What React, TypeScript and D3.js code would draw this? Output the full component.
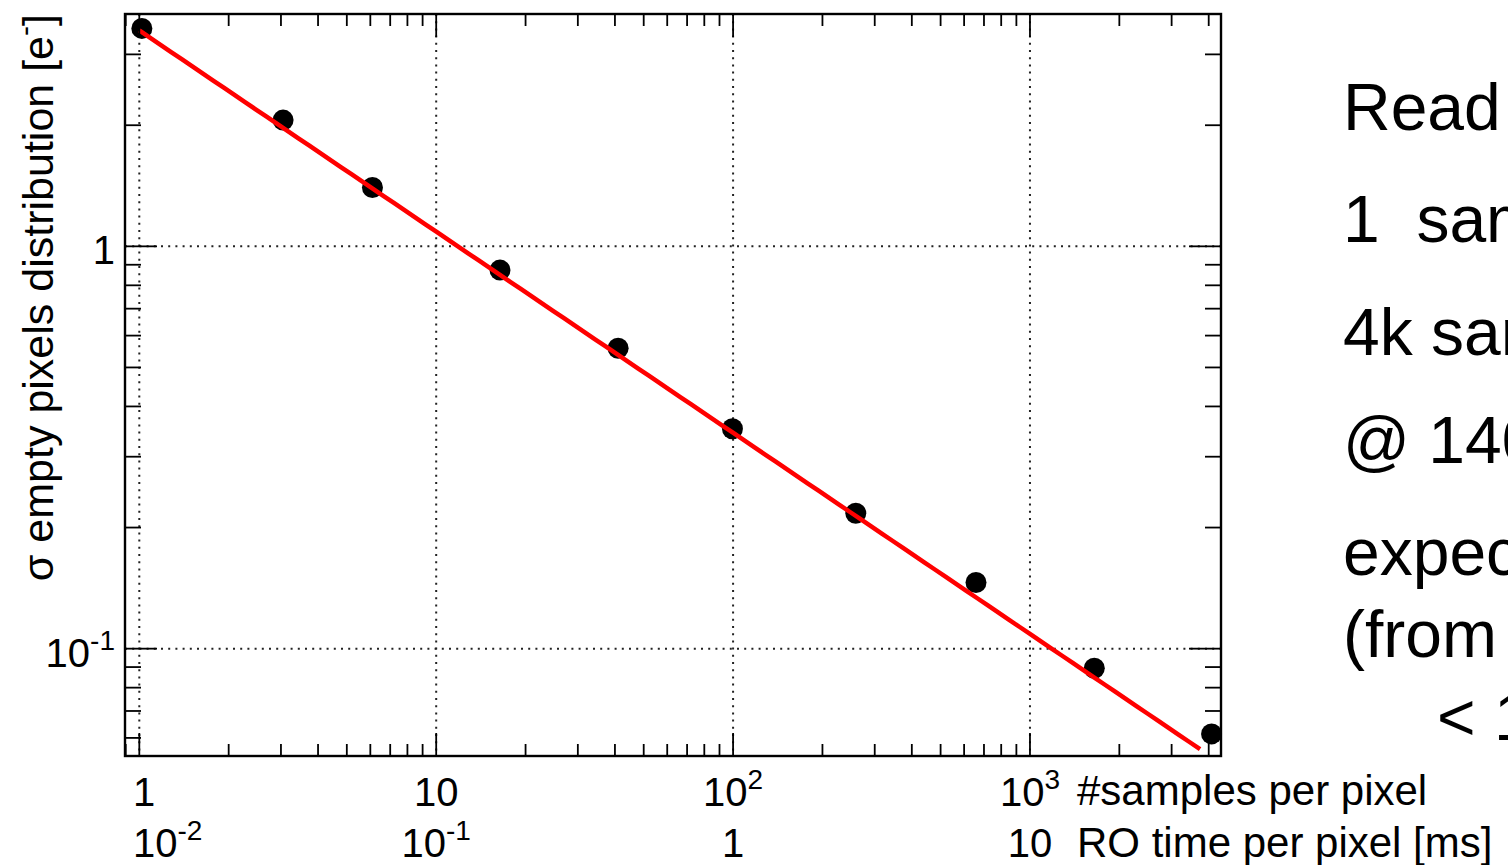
import React from "react";
import * as d3 from "d3";

// ---- data ----
const SAMPLES = [1.02, 3.05, 6.1, 16.4, 41, 99.5, 259, 658, 1647, 4090];
const SIGMA = [3.48, 2.06, 1.4, 0.873, 0.558, 0.352, 0.217, 0.146, 0.0894, 0.0614];
const FIT_AMPLITUDE = 3.44;
const FIT_EXPONENT = -0.5;
const FIT_RANGE = [1, 3740];
const X_DOMAIN = [0.895, 4400];
const Y_DOMAIN = [0.0541, 3.78];
const X_LABELS_SAMPLES = [
  { v: 1, base: "1", sup: "" },
  { v: 10, base: "10", sup: "" },
  { v: 100, base: "10", sup: "2" },
  { v: 1000, base: "10", sup: "3" },
];
const X_LABELS_TIME = [
  { v: 1, base: "10", sup: "-2" },
  { v: 10, base: "10", sup: "-1" },
  { v: 100, base: "1", sup: "" },
  { v: 1000, base: "10", sup: "" },
];
const Y_LABELS = [
  { v: 0.1, base: "10", sup: "-1" },
  { v: 1, base: "1", sup: "" },
];
const X_TITLE_1 = "#samples per pixel";
const X_TITLE_2 = "RO time per pixel [ms]";
const Y_TITLE = "σ empty pixels distribution [e";
const NOTES = ["Read", "1  sam", "4k sam", "@ 140", "expect", "(from", "< 1"];

const W = 1508;
const H = 865;
const FRAME = { left: 125, right: 1221, top: 14, bottom: 756 };
const FONT = "'Liberation Sans', Arial, Helvetica, sans-serif";

function estWidth(base: string, sup: string, fs: number, sfs: number) {
  const cw = (c: string) => (c === "-" ? 0.333 : 0.556);
  let w = 0;
  for (const c of base) w += cw(c) * fs;
  for (const c of sup) w += cw(c) * sfs;
  return w;
}

export default function App() {
  const x = d3.scaleLog().domain(X_DOMAIN).range([FRAME.left, FRAME.right]);
  const y = d3.scaleLog().domain(Y_DOMAIN).range([FRAME.bottom, FRAME.top]);

  const isMajor = (v: number) => Math.abs(Math.log10(v) - Math.round(Math.log10(v))) < 1e-9;
  const xTicks = x.ticks().filter((v) => x(v) >= FRAME.left - 0.5 && x(v) <= FRAME.right + 0.5);
  const yTicks = y.ticks().filter((v) => y(v) <= FRAME.bottom + 0.5 && y(v) >= FRAME.top - 0.5);
  const xMajor = xTicks.filter(isMajor);
  const yMajor = yTicks.filter(isMajor);

  const fitPts = d3.range(0, 101).map((i) => {
    const lx =
      Math.log10(FIT_RANGE[0]) + ((Math.log10(FIT_RANGE[1]) - Math.log10(FIT_RANGE[0])) * i) / 100;
    const xv = Math.pow(10, lx);
    return [xv, FIT_AMPLITUDE * Math.pow(xv, FIT_EXPONENT)] as [number, number];
  });
  const fitLine = d3
    .line<[number, number]>()
    .x((d) => x(d[0]))
    .y((d) => y(d[1]))(fitPts);

  const tickFs = 40;
  const supFs = 28;
  const supDy = 17;

  const xLabelRow = (labels: typeof X_LABELS_SAMPLES, baseline: number, key: string) =>
    labels.map((l, i) => {
      const w = estWidth(l.base, l.sup, tickFs, supFs);
      const left = Math.max(FRAME.left + 8, x(l.v) - w / 2);
      return (
        <text key={key + i} x={left} y={baseline} fontSize={tickFs} textAnchor="start">
          {l.base}
          {l.sup && (
            <tspan fontSize={supFs} dy={-supDy}>
              {l.sup}
            </tspan>
          )}
        </text>
      );
    });

  const noteBaselines = [130, 242, 355, 463, 575, 657, 740];

  return (
    <svg
      width={W}
      height={H}
      style={{ position: "absolute", left: 0, top: 0, background: "#fff" }}
      fontFamily={FONT}
    >
      <rect x={0} y={0} width={W} height={H} fill="#fff" />

      {/* grid */}
      {xMajor.map((v) => (
        <line
          key={"gx" + v}
          x1={x(v)}
          x2={x(v)}
          y1={FRAME.top}
          y2={FRAME.bottom}
          stroke="#222"
          strokeWidth={2}
          strokeDasharray="2 5.2"
        />
      ))}
      {yMajor.map((v) => (
        <line
          key={"gy" + v}
          x1={FRAME.left}
          x2={FRAME.right}
          y1={y(v)}
          y2={y(v)}
          stroke="#222"
          strokeWidth={2}
          strokeDasharray="2 5.2"
        />
      ))}

      {/* points */}
      {SAMPLES.map((s, i) => (
        <circle key={"p" + i} cx={x(s)} cy={y(SIGMA[i])} r={10.5} fill="#000" />
      ))}

      {/* fit */}
      <path d={fitLine || ""} fill="none" stroke="#ff0000" strokeWidth={4.5} />

      {/* ticks */}
      {xTicks.map((v) => {
        const len = isMajor(v) ? 23 : 12;
        return (
          <g key={"tx" + v} stroke="#000" strokeWidth={1.8}>
            <line x1={x(v)} x2={x(v)} y1={FRAME.bottom} y2={FRAME.bottom - len} />
            <line x1={x(v)} x2={x(v)} y1={FRAME.top} y2={FRAME.top + len} />
          </g>
        );
      })}
      {yTicks.map((v) => {
        const len = isMajor(v) ? 32 : 16;
        return (
          <g key={"ty" + v} stroke="#000" strokeWidth={1.8}>
            <line x1={FRAME.left} x2={FRAME.left + len} y1={y(v)} y2={y(v)} />
            <line x1={FRAME.right} x2={FRAME.right - len} y1={y(v)} y2={y(v)} />
          </g>
        );
      })}

      {/* frame */}
      <rect
        x={FRAME.left}
        y={FRAME.top}
        width={FRAME.right - FRAME.left}
        height={FRAME.bottom - FRAME.top}
        fill="none"
        stroke="#000"
        strokeWidth={2.4}
      />

      {/* x labels */}
      {xLabelRow(X_LABELS_SAMPLES, 806, "xs")}
      {xLabelRow(X_LABELS_TIME, 857, "xt")}
      <text x={1077} y={805} fontSize={42}>
        {X_TITLE_1}
      </text>
      <text x={1077} y={857} fontSize={42}>
        {X_TITLE_2}
      </text>

      {/* y labels */}
      {Y_LABELS.map((l, i) => (
        <text key={"yl" + i} x={115} y={y(l.v) + 18} fontSize={tickFs} textAnchor="end">
          {l.base}
          {l.sup && (
            <tspan fontSize={supFs} dy={-supDy}>
              {l.sup}
            </tspan>
          )}
        </text>
      ))}
      <text transform={`translate(53,${FRAME.top}) rotate(-90)`} textAnchor="end" fontSize={43}>
        {Y_TITLE}
        <tspan fontSize={30} dy={-18}>
          -
        </tspan>
        <tspan dy={18}>]</tspan>
      </text>

      {/* notes on the right */}
      {NOTES.map((t, i) => (
        <text
          key={"n" + i}
          x={i === 6 ? 1437 : 1343}
          y={noteBaselines[i]}
          fontSize={66}
          style={{ whiteSpace: "pre" }}
        >
          {t}
        </text>
      ))}
    </svg>
  );
}
